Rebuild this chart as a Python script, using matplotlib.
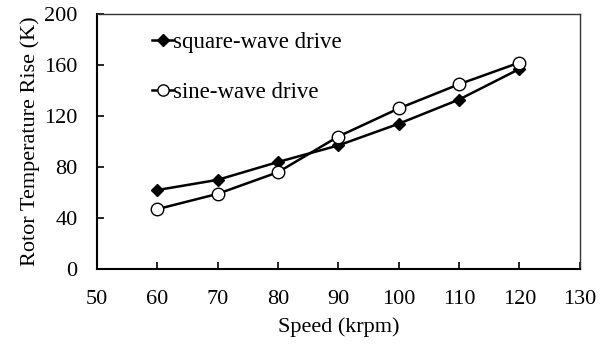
import matplotlib.pyplot as plt
import numpy as np

plt.rcParams['font.family'] = ['Liberation Serif', 'DejaVu Serif']

speed = np.array([60, 70, 80, 90, 100, 110, 120])
square_wave = np.array([62, 70, 84, 97, 114, 133, 157])
sine_wave = np.array([47, 59, 76, 104, 126, 145, 162])

fig = plt.figure(figsize=(6.09, 3.45), dpi=100)
ax = fig.add_axes([0.159, 0.220, 0.793, 0.739])

ax.plot(speed, square_wave, color='black', lw=1.8, marker='D', ms=6.5,
        mfc='black', mec='black', label='square-wave drive')
ax.plot(speed, sine_wave, color='black', lw=1.8, marker='o', ms=9,
        mfc='white', mec='black', mew=1.0, label='sine-wave drive')

ax.set_xlim(50, 130)
ax.set_ylim(0, 200)
ax.set_xticks(np.arange(50, 131, 10))
ax.set_yticks(np.arange(0, 201, 40))
ax.tick_params(direction='in', length=5, width=1.2, labelsize=16)
ax.tick_params(axis='x', pad=15)
ax.tick_params(axis='y', pad=14)
for s in ['left', 'bottom']:
    ax.spines[s].set_linewidth(1.5)
for s in ['top', 'right']:
    ax.spines[s].set_linewidth(1.0)
    ax.spines[s].set_color('#333333')

ax.set_xlabel('Speed (krpm)', fontsize=16, labelpad=6)
ax.set_ylabel('Rotor Temperature Rise (K)', fontsize=16, labelpad=3)

ax.legend(loc='upper left', bbox_to_anchor=(0.072, 1.01), frameon=False,
          fontsize=16.5, handlelength=0.9, handletextpad=0.0,
          labelspacing=1.25, markerscale=0.9)

fig.savefig('out.png', dpi=100)
